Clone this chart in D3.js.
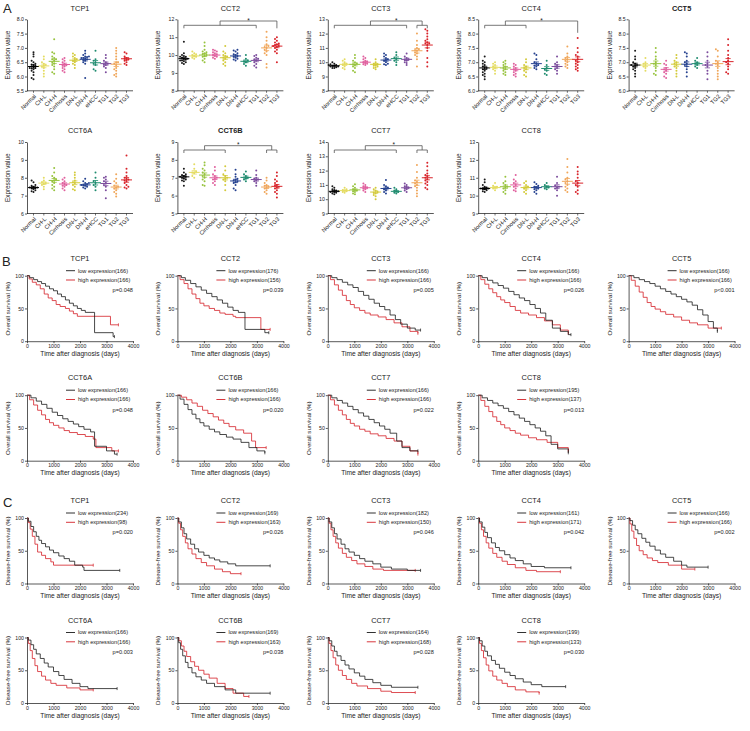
<!DOCTYPE html>
<html>
<head>
<meta charset="utf-8">
<script src="https://cdn.jsdelivr.net/npm/d3@7"></script>
<style>
  body { margin: 0; background: #fff; }
  text { font-family: Arial, "Liberation Sans", sans-serif; fill: #222; }
</style>
</head>
<body>
<svg id="fig" width="750" height="731"></svg>
<script>
// ---- Panel A data: expression dot plots ----
const groups = ["Normal", "CH-L", "CH-H", "Cirrhosis", "DN-L", "DN-H", "eHCC", "TG1", "TG2", "TG3"];
const groupColors = ["#1a1a1a", "#e4dc62", "#97c33e", "#e0609e", "#d3ca3a", "#25418f", "#1f8c6f", "#7c4d9d", "#f0a65a", "#d8232a"];

const dotGenes = ["TCP1", "CCT2", "CCT3", "CCT4", "CCT5", "CCT6A", "CCT6B", "CCT7", "CCT8"];
const dotTicks = [
    [5.5, 6, 6.5, 7, 7.5, 8], [8, 9, 10, 11, 12], [8, 9, 10, 11, 12, 13],
    [6, 6.5, 7, 7.5, 8, 8.5], [6, 6.5, 7, 7.5, 8, 8.5], [6, 7, 8, 9, 10],
    [5, 6, 7, 8, 9], [9, 10, 11, 12, 13, 14], [9, 10, 11, 12, 13]
];
const dotMeans = [
    [6.35, 6.37, 6.53, 6.42, 6.57, 6.6, 6.48, 6.45, 6.43, 6.62],
    [9.8, 9.95, 10.0, 10.0, 9.85, 9.95, 9.65, 9.7, 10.4, 10.5],
    [9.75, 9.85, 9.85, 10.0, 9.85, 10.15, 10.25, 10.2, 10.8, 11.2],
    [6.8, 6.82, 6.8, 6.75, 6.8, 6.95, 6.78, 6.85, 7.1, 7.1],
    [6.9, 6.9, 6.95, 6.75, 6.93, 6.93, 6.95, 6.9, 6.95, 7.02],
    [7.45, 7.7, 7.85, 7.65, 7.72, 7.6, 7.72, 7.68, 7.48, 7.88],
    [7.05, 7.3, 7.15, 7.0, 7.0, 6.82, 7.02, 6.9, 6.48, 6.52],
    [10.55, 10.6, 10.65, 10.8, 10.5, 10.75, 10.55, 10.8, 11.15, 11.5],
    [10.4, 10.45, 10.5, 10.6, 10.45, 10.45, 10.5, 10.5, 10.8, 10.7]
];

const tcp1Points = [
    [6.85, 6.78, 6.7, 6.55, 6.45, 6.4, 6.38, 6.35, 6.33, 6.3, 6.3, 6.28, 6.25, 6.2, 6.15, 6.05, 5.95, 5.9, 6.5, 6.42],
    [6.7, 6.6, 6.5, 6.4, 6.38, 6.35, 6.3, 6.2, 6.1, 6.0, 6.45],
    [7.3, 6.85, 6.8, 6.7, 6.65, 6.6, 6.55, 6.5, 6.45, 6.4, 6.35, 6.25, 6.15, 6.1, 6.6],
    [6.65, 6.6, 6.55, 6.5, 6.45, 6.4, 6.38, 6.35, 6.3, 6.25, 6.2, 6.15],
    [6.8, 6.75, 6.7, 6.65, 6.6, 6.58, 6.55, 6.5, 6.45, 6.4, 6.3],
    [6.9, 6.8, 6.75, 6.7, 6.68, 6.65, 6.62, 6.6, 6.58, 6.55, 6.5, 6.45, 5.95, 6.7, 6.65],
    [6.9, 6.6, 6.55, 6.5, 6.45, 6.4, 6.25, 6.2],
    [6.75, 6.65, 6.55, 6.5, 6.45, 6.42, 6.4, 6.35, 6.3, 6.15],
    [7.0, 6.9, 6.8, 6.7, 6.6, 6.5, 6.45, 6.4, 6.3, 6.25, 6.2, 6.1, 6.05, 6.0, 6.5],
    [6.85, 6.8, 6.7, 6.65, 6.62, 6.6, 6.58, 6.55, 6.5, 6.45, 6.4]
];
const cct2Points = [
    [10.75, 10.1, 10.0, 9.95, 9.9, 9.85, 9.8, 9.8, 9.75, 9.7, 9.7, 9.65, 9.6, 9.55, 9.5, 9.9],
    [10.2, 10.1, 10.0, 9.95, 9.9, 9.85, 9.8, 10.05],
    [10.7, 10.5, 10.3, 10.2, 10.1, 10.05, 10.0, 9.95, 9.9, 9.8, 9.7, 9.6, 10.15],
    [10.3, 10.25, 10.2, 10.1, 10.05, 10.0, 9.95, 9.9, 9.85, 9.8, 10.15],
    [10.5, 10.2, 10.1, 9.95, 9.9, 9.85, 9.8, 9.7, 9.6, 9.5, 9.4, 10.0],
    [10.3, 10.25, 10.2, 10.1, 10.0, 9.95, 9.9, 9.85, 9.8, 9.75, 9.7, 10.05],
    [10.0, 9.8, 9.7, 9.65, 9.6, 9.5, 9.4],
    [10.0, 9.95, 9.85, 9.8, 9.7, 9.6, 9.5, 9.4, 9.3, 9.75],
    [11.3, 11.0, 10.8, 10.6, 10.5, 10.4, 10.3, 10.2, 10.1, 10.0, 9.5, 9.3, 10.45],
    [11.0, 10.9, 10.8, 10.7, 10.6, 10.55, 10.5, 10.45, 10.4, 10.3, 10.2, 10.1, 9.6, 10.65, 10.5]
];
const cct3Points = [
    [10.0, 9.9, 9.85, 9.8, 9.75, 9.7, 9.7, 9.65, 9.6, 9.6, 9.75, 9.8],
    [10.2, 10.1, 10.0, 9.9, 9.85, 9.8, 9.7, 9.6, 9.5],
    [10.5, 10.3, 10.1, 10.0, 9.9, 9.85, 9.8, 9.7, 9.6, 9.4, 9.3],
    [10.4, 10.3, 10.2, 10.1, 10.05, 10.0, 9.95, 9.9, 9.85, 9.8],
    [10.2, 10.0, 9.9, 9.85, 9.8, 9.75, 9.7, 9.65, 9.6, 9.5],
    [10.6, 10.5, 10.4, 10.3, 10.2, 10.15, 10.1, 10.0, 9.9, 9.85, 9.8],
    [10.7, 10.5, 10.3, 10.2, 10.0, 9.8, 10.1],
    [10.6, 10.4, 10.3, 10.2, 10.15, 10.1, 10.0, 9.95, 9.8],
    [12.0, 11.5, 11.2, 11.0, 10.9, 10.8, 10.7, 10.6, 10.5, 10.4, 10.2, 9.7, 10.85],
    [12.3, 12.2, 12.0, 11.8, 11.6, 11.5, 11.4, 11.3, 11.2, 11.0, 10.8, 10.3, 10.0, 9.7, 11.3]
];
const cct4Points = [
    [7.2, 7.05, 7.0, 6.95, 6.9, 6.85, 6.8, 6.75, 6.7, 6.65, 6.6, 6.55, 6.5, 6.4, 6.8],
    [7.0, 6.95, 6.9, 6.85, 6.8, 6.75, 6.7, 6.6],
    [7.05, 7.0, 6.95, 6.9, 6.85, 6.8, 6.75, 6.7, 6.65, 6.6, 6.55],
    [6.95, 6.9, 6.85, 6.8, 6.75, 6.7, 6.65, 6.6, 6.55, 6.5],
    [7.1, 7.0, 6.9, 6.85, 6.8, 6.75, 6.7, 6.65, 6.55, 6.5],
    [7.3, 7.25, 7.1, 7.0, 6.95, 6.9, 6.88, 6.85, 6.8, 6.75],
    [7.05, 6.9, 6.8, 6.75, 6.7, 6.6, 6.55],
    [7.2, 7.0, 6.95, 6.9, 6.85, 6.8, 6.75, 6.7, 6.6],
    [7.55, 7.3, 7.2, 7.15, 7.1, 7.05, 7.0, 6.95, 6.9, 6.85, 6.8],
    [7.85, 7.5, 7.35, 7.25, 7.2, 7.1, 7.05, 7.0, 6.95, 6.9, 6.85, 6.8, 6.75, 6.7]
];
const cct5Points = [
    [7.4, 7.2, 7.1, 7.0, 6.95, 6.9, 6.88, 6.85, 6.8, 6.75, 6.7, 6.6, 6.5, 6.9],
    [7.15, 7.0, 6.95, 6.9, 6.85, 6.8, 6.7],
    [7.5, 7.35, 7.2, 7.1, 7.0, 6.95, 6.9, 6.8, 6.7, 6.6, 6.55],
    [7.05, 6.95, 6.9, 6.8, 6.75, 6.7, 6.65, 6.6, 6.5, 6.45],
    [7.25, 7.15, 7.05, 7.0, 6.95, 6.9, 6.85, 6.8, 6.7, 6.6, 6.5],
    [7.35, 7.3, 7.2, 7.05, 7.0, 6.95, 6.9, 6.85, 6.75, 6.65, 6.5],
    [7.15, 7.05, 7.0, 6.95, 6.9, 6.85, 6.8],
    [7.35, 7.2, 7.05, 6.95, 6.9, 6.85, 6.7, 6.6, 6.4],
    [7.45, 7.4, 7.2, 7.05, 7.0, 6.95, 6.9, 6.8, 6.7, 6.6, 6.5, 6.4],
    [7.8, 7.6, 7.4, 7.25, 7.15, 7.05, 7.0, 6.95, 6.85, 6.75, 6.65, 6.6]
];
const cct6aPoints = [
    [7.85, 7.75, 7.6, 7.55, 7.5, 7.45, 7.42, 7.4, 7.35, 7.3, 7.25, 7.2, 7.45],
    [8.0, 7.85, 7.75, 7.7, 7.65, 7.6, 7.5, 7.35],
    [8.55, 8.3, 8.1, 8.0, 7.9, 7.85, 7.8, 7.7, 7.6, 7.5, 7.4, 7.3],
    [8.0, 7.9, 7.8, 7.7, 7.65, 7.6, 7.55, 7.5, 7.4, 7.3],
    [8.3, 8.15, 8.0, 7.85, 7.75, 7.7, 7.6, 7.5, 7.35, 7.3],
    [7.95, 7.8, 7.7, 7.65, 7.6, 7.55, 7.5, 7.45, 7.4, 7.7, 7.6],
    [8.3, 8.0, 7.8, 7.7, 7.6, 7.5, 7.3],
    [8.05, 8.0, 7.9, 7.8, 7.7, 7.6, 7.5, 7.3, 6.85],
    [8.2, 7.95, 7.8, 7.7, 7.55, 7.5, 7.45, 7.4, 7.3, 7.2, 7.1, 6.95],
    [9.25, 8.5, 8.3, 8.1, 8.0, 7.95, 7.9, 7.85, 7.8, 7.7, 7.6, 7.5, 7.45, 7.4]
];
const cct6bPoints = [
    [7.5, 7.3, 7.2, 7.15, 7.1, 7.05, 7.0, 6.95, 6.9, 6.85, 6.8, 6.55, 7.05],
    [7.75, 7.5, 7.35, 7.3, 7.25, 7.1, 7.0],
    [7.85, 7.7, 7.5, 7.4, 7.3, 7.2, 7.1, 7.0, 6.9, 6.8, 6.6, 6.55],
    [7.6, 7.4, 7.2, 7.1, 7.0, 6.95, 6.9, 6.8, 6.7, 6.6],
    [7.65, 7.4, 7.2, 7.1, 7.0, 6.95, 6.9, 6.8, 6.6, 6.3],
    [7.45, 7.2, 7.05, 6.95, 6.9, 6.85, 6.8, 6.75, 6.7, 6.6, 6.4, 6.3],
    [7.35, 7.2, 7.1, 7.0, 6.95, 6.9, 6.8],
    [7.4, 7.15, 7.0, 6.95, 6.9, 6.85, 6.8, 6.7, 6.55],
    [7.0, 6.85, 6.7, 6.6, 6.55, 6.5, 6.45, 6.4, 6.3, 6.2, 6.1],
    [7.3, 7.1, 6.9, 6.8, 6.7, 6.6, 6.55, 6.5, 6.45, 6.4, 6.3, 6.2, 6.1, 5.9]
];
const cct7Points = [
    [10.9, 10.8, 10.7, 10.65, 10.6, 10.55, 10.5, 10.5, 10.45, 10.4, 10.35, 10.55],
    [10.8, 10.7, 10.65, 10.6, 10.55, 10.5, 10.45],
    [11.05, 10.9, 10.8, 10.7, 10.65, 10.6, 10.55, 10.5, 10.4, 10.35],
    [11.1, 11.0, 10.9, 10.85, 10.8, 10.75, 10.7, 10.6, 10.5],
    [10.8, 10.7, 10.6, 10.5, 10.45, 10.4, 10.3, 10.2, 10.0],
    [11.35, 11.0, 10.9, 10.8, 10.75, 10.7, 10.6, 10.5, 10.4],
    [10.8, 10.7, 10.6, 10.55, 10.5, 10.45, 10.4],
    [11.1, 11.0, 10.9, 10.85, 10.8, 10.75, 10.7, 10.6, 10.5],
    [12.4, 11.9, 11.5, 11.3, 11.2, 11.1, 11.0, 10.9, 10.8, 10.6, 10.4, 10.2],
    [12.55, 12.3, 12.0, 11.8, 11.7, 11.6, 11.5, 11.4, 11.3, 11.2, 11.1, 11.0, 10.8, 10.7]
];
const cct8Points = [
    [10.9, 10.75, 10.6, 10.5, 10.45, 10.4, 10.38, 10.35, 10.3, 10.25, 10.2, 10.4],
    [10.7, 10.55, 10.5, 10.45, 10.4, 10.3],
    [11.05, 10.8, 10.7, 10.6, 10.5, 10.45, 10.4, 10.3, 10.2, 10.1],
    [11.15, 10.9, 10.8, 10.7, 10.6, 10.5, 10.4, 10.3, 10.25],
    [10.8, 10.7, 10.6, 10.5, 10.45, 10.4, 10.3, 10.2, 10.1],
    [10.75, 10.65, 10.55, 10.5, 10.45, 10.4, 10.35, 10.3, 10.2, 10.1],
    [10.7, 10.6, 10.5, 10.45, 10.4, 10.35],
    [11.05, 10.7, 10.55, 10.5, 10.45, 10.4, 10.3, 10.0],
    [12.05, 11.6, 11.3, 11.0, 10.9, 10.8, 10.7, 10.6, 10.5, 10.4, 10.3, 10.2],
    [11.6, 11.35, 11.2, 11.0, 10.8, 10.7, 10.6, 10.5, 10.3, 10.2, 10.1]
];
const dotPoints = [tcp1Points, cct2Points, cct3Points, cct4Points, cct5Points, cct6aPoints, cct6bPoints, cct7Points, cct8Points];

// significance brackets: left group range, right group range (indices into groups)
const brackets = [null, { l: [0, 7], r: [9, 9] }, { l: [0, 7], r: [8, 9] }, { l: [0, 4], r: [9, 9] }, null,
    null, { l: [0, 4], r: [8, 9] }, { l: [0, 6], r: [8, 9] }, null];

// ---- Panel B data: overall survival ----
const kmGenes = ["TCP1", "CCT2", "CCT3", "CCT4", "CCT5", "CCT6A", "CCT6B", "CCT7", "CCT8"];
const osLowN = [166, 176, 166, 166, 166, 166, 166, 166, 195];
const osHighN = [166, 156, 166, 166, 166, 166, 166, 166, 137];
const osP = ["p=0.048", "p=0.039", "p=0.005", "p=0.026", "p<0.001", "p=0.048", "p=0.020", "p=0.022", "p=0.013"];
const osLow = [
    [[0,100],[100,97],[250,94],[400,91],[550,88],[700,84],[850,80],[1000,77],[1150,72],[1300,68],[1450,63],[1600,58],[1750,54],[1900,50],[2050,47],[2200,44],[2550,13],[3250,7],[3300,7]],
    [[0,100],[150,97],[300,93],[500,88],[700,83],[900,78],[1100,73],[1300,68],[1500,63],[1700,58],[1900,52],[2100,47],[2300,44],[2550,18],[3300,13],[3450,13]],
    [[0,100],[150,97],[350,94],[550,90],[750,86],[950,82],[1150,76],[1350,70],[1550,64],[1750,58],[1950,53],[2150,48],[2350,40],[2550,33],[2750,26],[3000,20],[3300,17],[3500,17]],
    [[0,100],[150,97],[350,93],[550,89],[750,85],[950,81],[1150,76],[1350,71],[1550,66],[1750,62],[1950,56],[2150,50],[2350,43],[2550,32],[2800,20],[3100,15],[3400,10],[3500,10]],
    [[0,100],[200,97],[400,94],[600,91],[800,88],[1000,84],[1200,80],[1400,76],[1600,72],[1800,68],[2000,64],[2200,60],[2400,55],[2600,48],[2800,40],[3000,30],[3200,20],[3350,15]],
    [[0,100],[150,96],[350,91],[550,86],[750,80],[950,74],[1150,69],[1350,64],[1550,60],[1750,56],[1950,52],[2150,48],[2400,44],[2550,22],[3000,15],[3300,10],[3400,10]],
    [[0,100],[100,94],[250,86],[400,78],[550,71],[700,64],[850,58],[1000,53],[1200,48],[1400,44],[1600,40],[1850,36],[2100,33],[2400,28],[2700,20],[3000,15],[3300,12]],
    [[0,100],[150,96],[350,92],[550,88],[750,83],[950,78],[1150,73],[1350,68],[1550,63],[1750,58],[1950,53],[2150,48],[2350,42],[2600,30],[2800,20],[3100,15],[3400,15]],
    [[0,100],[150,96],[350,92],[550,88],[750,84],[950,80],[1150,75],[1350,70],[1550,65],[1750,60],[1950,55],[2150,50],[2350,45],[2550,38],[2750,25],[3000,18],[3400,12]]
];
const osHigh = [
    [[0,100],[80,95],[200,90],[350,86],[500,80],[650,72],[800,66],[950,62],[1100,56],[1250,53],[1450,50],[1600,46],[1750,42],[1900,38],[3150,25],[3450,25]],
    [[0,100],[100,94],[250,88],[400,80],[550,72],[700,65],[850,58],[1000,54],[1200,50],[1400,47],[1600,43],[1800,41],[2100,38],[2200,36],[3150,18],[3500,18]],
    [[0,100],[100,94],[250,86],[400,78],[550,70],[700,62],[850,56],[1000,51],[1200,47],[1400,43],[1600,40],[1900,37],[2200,33],[2500,28],[2800,22],[3100,15],[3400,12]],
    [[0,100],[100,94],[250,87],[400,80],[550,74],[700,68],[850,63],[1000,59],[1200,53],[1400,47],[1600,43],[1900,40],[2200,36],[2500,31],[2800,25],[3100,17],[3400,12]],
    [[0,100],[100,93],[250,84],[400,75],[550,67],[700,59],[850,53],[1000,49],[1200,45],[1400,41],[1700,37],[2000,32],[2300,28],[2600,25],[3000,20],[3500,20]],
    [[0,100],[100,93],[250,85],[400,77],[550,70],[700,63],[850,58],[1000,54],[1200,50],[1400,46],[1600,43],[1900,40],[2200,37],[2500,33],[2600,20],[3200,15],[3450,15]],
    [[0,100],[150,97],[350,93],[550,88],[750,83],[950,77],[1150,72],[1350,67],[1550,62],[1750,57],[1950,52],[2200,47],[2500,42],[2800,30],[2950,20],[3350,20]],
    [[0,100],[100,93],[250,85],[400,77],[550,70],[700,63],[850,57],[1000,53],[1200,48],[1400,45],[1600,41],[1900,38],[2200,34],[2500,30],[2800,22],[3100,15],[3400,10]],
    [[0,100],[100,92],[250,83],[400,75],[550,67],[700,60],[850,55],[1000,50],[1200,46],[1400,42],[1600,39],[1900,35],[2200,32],[2600,28],[3000,20],[3400,15]]
];

// ---- Panel C data: disease-free survival ----
const dfsLowN = [234, 169, 182, 161, 166, 166, 169, 164, 199];
const dfsHighN = [98, 163, 150, 171, 166, 166, 163, 168, 133];
const dfsP = ["p=0.020", "p=0.026", "p=0.046", "p=0.042", "p=0.002", "p=0.003", "p=0.038", "p=0.028", "p=0.030"];
const dfsLow = [
    [[0,100],[50,95],[150,87],[250,79],[350,72],[450,66],[550,61],[700,56],[850,51],[1000,47],[1200,42],[1400,38],[1600,34],[1800,28],[2100,25],[2150,20],[3500,20]],
    [[0,100],[50,94],[150,85],[250,76],[350,68],[500,60],[650,53],[800,48],[1000,43],[1200,39],[1400,36],[1600,33],[1900,30],[2200,27],[3500,27]],
    [[0,100],[50,94],[150,85],[250,76],[350,68],[500,60],[650,53],[800,48],[1000,43],[1200,38],[1400,34],[1700,30],[2000,25],[2400,22],[3000,20],[3500,20]],
    [[0,100],[50,94],[150,86],[250,78],[350,70],[500,62],[650,55],[800,50],[1000,44],[1200,39],[1400,35],[1700,30],[2000,26],[2500,24],[3500,24]],
    [[0,100],[50,96],[150,89],[250,82],[350,76],[500,69],[650,63],[800,57],[1000,51],[1200,45],[1400,40],[1700,34],[2000,28],[2200,25],[3000,25]],
    [[0,100],[50,96],[150,89],[250,82],[350,75],[500,68],[650,61],[800,55],[1000,48],[1200,42],[1400,36],[1700,30],[2000,25],[2300,22],[3400,22]],
    [[0,100],[50,92],[120,82],[200,72],[300,62],[400,54],[550,46],[700,40],[900,35],[1100,30],[1400,25],[1800,20],[2200,15],[3500,15]],
    [[0,100],[50,95],[150,87],[250,79],[350,72],[500,65],[650,58],[800,52],[1000,46],[1200,41],[1400,36],[1700,31],[2000,27],[2400,24],[3400,24]],
    [[0,100],[50,95],[150,87],[250,79],[350,72],[500,65],[650,59],[800,53],[1000,47],[1200,42],[1400,37],[1700,32],[2000,28],[2400,25],[3300,25]]
];
const dfsHigh = [
    [[0,100],[50,93],[120,83],[200,72],[300,60],[400,48],[550,43],[700,38],[900,33],[1000,28],[2500,28]],
    [[0,100],[50,92],[120,82],[200,72],[300,62],[400,53],[550,45],[700,38],[900,32],[1100,27],[1400,22],[1700,18],[2000,15],[2400,15]],
    [[0,100],[50,92],[120,82],[200,72],[300,62],[400,54],[550,46],[700,40],[900,35],[1100,30],[1400,26],[1700,22],[2100,20],[3300,20]],
    [[0,100],[50,92],[120,82],[200,72],[300,62],[400,54],[550,46],[700,40],[900,34],[1100,29],[1400,24],[1800,20],[2200,18],[3100,18]],
    [[0,100],[50,91],[120,80],[200,69],[300,58],[400,50],[550,44],[700,39],[900,35],[1100,32],[1500,28],[2000,22],[2500,22]],
    [[0,100],[50,91],[120,80],[200,68],[300,57],[400,48],[550,41],[700,35],[900,30],[1100,27],[1500,23],[2000,20],[2500,20]],
    [[0,100],[50,95],[150,87],[250,79],[350,71],[500,63],[650,56],[800,50],[1000,44],[1200,38],[1500,30],[1800,22],[2100,15],[2500,10],[2700,10]],
    [[0,100],[50,91],[120,80],[200,69],[300,58],[400,50],[550,42],[700,36],[900,30],[1100,26],[1500,22],[2000,18],[2400,16],[3300,16]],
    [[0,100],[50,91],[120,80],[200,69],[300,58],[400,49],[550,41],[700,35],[900,30],[1100,25],[1400,20],[1800,17],[2300,15]]
];

// ---- drawing ----
const svg = d3.select("#fig");
const colX = i => 150.4 * i;
const kmLowColor = "#1a1a1a";
const kmHighColor = "#d42027";

function styleAxis(sel) {
    sel.selectAll("path, line").attr("stroke", "#111").attr("stroke-width", 0.7);
    sel.selectAll("text").attr("font-size", 5.2).attr("fill", "#222");
}

// beeswarm-ish offsets so dots do not pile on each other
function swarm(vals, y) {
    const placed = [];
    const offs = [0, -1.9, 1.9, -3.8, 3.8, -5.7, 5.7];
    return vals.slice().sort((a, b) => a - b).map(v => {
        const py = y(v);
        let dx = 0;
        for (const o of offs) {
            if (placed.every(p => (p.dx - o) ** 2 + (p.py - py) ** 2 > 3.4)) { dx = o; break; }
        }
        const p = { v, py, dx };
        placed.push(p);
        return p;
    });
}

function dotPanel(k, ox, top, titleY, bar) {
    const g = svg.append("g").attr("transform", `translate(${ox},0)`);
    const ticks = dotTicks[k];
    const bottom = top + 71.5;
    const y = d3.scaleLinear().domain([ticks[0], ticks[ticks.length - 1]]).range([bottom, top]);
    const x = d3.scalePoint().domain(groups).range([33.5, 126.5]);
    const fmt = ticks.some(t => t % 1) ? d3.format(".1f") : d3.format("d");

    g.append("text").attr("x", 80).attr("y", titleY).attr("text-anchor", "middle")
        .attr("font-size", 7.4).attr("font-weight", (k === 4 || k === 6) ? "bold" : "normal")
        .text(dotGenes[k]);

    g.append("g").attr("transform", "translate(27,0)")
        .call(d3.axisLeft(y).tickValues(ticks).tickFormat(fmt).tickSize(2).tickSizeOuter(0).tickPadding(1))
        .call(styleAxis);

    const xa = g.append("g").attr("transform", `translate(0,${bottom})`);
    xa.append("line").attr("x1", 27).attr("x2", 133).attr("stroke", "#111").attr("stroke-width", 0.7);
    xa.selectAll("line.t").data(groups).join("line").attr("class", "t")
        .attr("x1", d => x(d)).attr("x2", d => x(d)).attr("y1", 0).attr("y2", 2)
        .attr("stroke", "#111").attr("stroke-width", 0.6);
    xa.selectAll("text").data(groups).join("text")
        .attr("transform", d => `translate(${x(d) + 1.5},4.5) rotate(-45)`)
        .attr("text-anchor", "end").attr("font-size", 5.8).attr("dy", "0.35em")
        .text(d => d);

    g.append("text")
        .attr("transform", `translate(10,${(top + bottom) / 2}) rotate(-90)`)
        .attr("text-anchor", "middle").attr("font-size", 6.4).text("Expression value");

    groups.forEach((gr, i) => {
        const vals = dotPoints[k][i];
        const col = groupColors[i];
        const cx = x(gr);
        g.append("g").selectAll("circle").data(swarm(vals, y)).join("circle")
            .attr("cx", d => cx + d.dx).attr("cy", d => d.py).attr("r", 1.0).attr("fill", col);
        const m = dotMeans[k][i];
        const sem = d3.deviation(vals) / Math.sqrt(vals.length);
        const lc = i === 0 ? "#000" : col;
        g.append("line").attr("x1", cx - 5.5).attr("x2", cx + 5.5).attr("y1", y(m)).attr("y2", y(m))
            .attr("stroke", lc).attr("stroke-width", 1);
        g.append("line").attr("x1", cx).attr("x2", cx).attr("y1", y(m - sem)).attr("y2", y(m + sem))
            .attr("stroke", lc).attr("stroke-width", 0.8);
        [m - sem, m + sem].forEach(v => g.append("line").attr("x1", cx - 2.6).attr("x2", cx + 2.6)
            .attr("y1", y(v)).attr("y2", y(v)).attr("stroke", lc).attr("stroke-width", 0.8));
    });

    const b = brackets[k];
    if (b) {
        const yb = top + bar, yc = top + bar - 4.3, ya = top + bar + 3;
        const lx0 = x(groups[b.l[0]]), lx1 = x(groups[b.l[1]]), lm = (lx0 + lx1) / 2;
        const rx0 = x(groups[b.r[0]]), rx1 = x(groups[b.r[1]]), rm = (rx0 + rx1) / 2;
        const path = d3.path();
        path.moveTo(lx0, ya); path.lineTo(lx0, yb); path.lineTo(lx1, yb); path.lineTo(lx1, ya);
        path.moveTo(lm, yb); path.lineTo(lm, yc); path.lineTo(rm, yc);
        if (b.r[0] === b.r[1]) {
            path.lineTo(rm, k === 3 ? top + 13.5 : ya);
        } else {
            path.lineTo(rm, yb);
            path.moveTo(rx0, ya); path.lineTo(rx0, yb); path.lineTo(rx1, yb); path.lineTo(rx1, ya);
        }
        g.append("path").attr("d", path.toString()).attr("fill", "none")
            .attr("stroke", "#555").attr("stroke-width", 0.8);
        g.append("text").attr("x", (lm + rm) / 2).attr("y", yc + 1.5).attr("text-anchor", "middle")
            .attr("font-size", 6.5).text("*");
    }
}

function kmPanel(k, ox, top, lowCurve, highCurve, lowN, highN, pText, ylab) {
    const g = svg.append("g").attr("transform", `translate(${ox},0)`);
    const x = d3.scaleLinear().domain([0, 4000]).range([27, 133]);
    const y = d3.scaleLinear().domain([0, 100]).range([top + 65.5, top]);

    g.append("text").attr("x", 80).attr("y", top - 15).attr("text-anchor", "middle")
        .attr("font-size", 7.4).text(kmGenes[k]);

    g.append("g").attr("transform", `translate(0,${top + 65.5})`)
        .call(d3.axisBottom(x).tickValues([0, 1000, 2000, 3000, 4000]).tickFormat(d3.format("d"))
            .tickSize(2).tickSizeOuter(0).tickPadding(1))
        .call(styleAxis);
    g.append("g").attr("transform", "translate(27,0)")
        .call(d3.axisLeft(y).tickValues([0, 50, 100]).tickSize(2).tickSizeOuter(0).tickPadding(1))
        .call(styleAxis);

    g.append("text").attr("x", 80).attr("y", top + 80).attr("text-anchor", "middle")
        .attr("font-size", 6.6).text("Time after diagnosis (days)");
    g.append("text")
        .attr("transform", `translate(10,${top + 33}) rotate(-90)`)
        .attr("text-anchor", "middle").attr("font-size", 6.2).text(ylab);

    const line = d3.line().x(d => x(d[0])).y(d => y(d[1])).curve(d3.curveStepAfter);
    [[highCurve, kmHighColor], [lowCurve, kmLowColor]].forEach(([c, col]) => {
        g.append("path").attr("d", line(c)).attr("fill", "none").attr("stroke", col).attr("stroke-width", 0.8);
        const last = c[c.length - 1];
        g.append("line").attr("x1", x(last[0])).attr("x2", x(last[0]))
            .attr("y1", y(last[1]) - 1.5).attr("y2", y(last[1]) + 1.5).attr("stroke", col).attr("stroke-width", 0.7);
    });

    // legend
    const leg = [[`low expression(${lowN})`, kmLowColor], [`high expression(${highN})`, kmHighColor]];
    leg.forEach(([t, col], i) => {
        const ly = top - 5 + i * 9.3;
        g.append("line").attr("x1", 66).attr("x2", 75).attr("y1", ly).attr("y2", ly)
            .attr("stroke", col).attr("stroke-width", 0.9);
        g.append("text").attr("x", 78).attr("y", ly).attr("dy", "0.35em").attr("font-size", 5.6).text(t);
    });
    g.append("text").attr("x", 133).attr("y", top + 14.5).attr("dy", "0.35em")
        .attr("text-anchor", "end").attr("font-size", 5.6).text(pText);
}

// panel letters
[["A", 3, 13], ["B", 2, 266], ["C", 3, 507]].forEach(([t, x, y]) => {
    svg.append("text").attr("x", x).attr("y", y).attr("font-size", 13).text(t);
});

dotGenes.forEach((gname, k) => {
    const row = k < 5 ? 0 : 1;
    const col = k < 5 ? k : k - 5;
    if (row === 0) dotPanel(k, colX(col), 19.3, 10.7, 6);
    else dotPanel(k, colX(col), 142, 133, 8);
});

kmGenes.forEach((gname, k) => {
    const row = k < 5 ? 0 : 1;
    const col = k < 5 ? k : k - 5;
    kmPanel(k, colX(col), 275.7 + row * 119.5, osLow[k], osHigh[k], osLowN[k], osHighN[k], osP[k], "Overall survival (%)");
    kmPanel(k, colX(col), 518 + row * 119.5, dfsLow[k], dfsHigh[k], dfsLowN[k], dfsHighN[k], dfsP[k], "Disease-free survival (%)");
});
</script>
</body>
</html>
